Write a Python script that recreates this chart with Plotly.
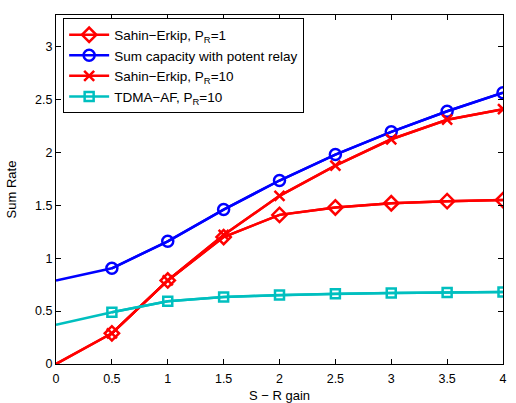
import plotly.graph_objects as go

# S-R channel gain values
gain = [0, 0.5, 1, 1.5, 2, 2.5, 3, 3.5, 4]

# Sum rates for each scheme
sahin_pr1 = [0, 0.29, 0.79, 1.20, 1.41, 1.48, 1.52, 1.54, 1.55]
potent_relay = [0.79, 0.905, 1.16, 1.46, 1.735, 1.98, 2.195, 2.39, 2.565]
sahin_pr10 = [0, 0.29, 0.79, 1.22, 1.59, 1.875, 2.125, 2.31, 2.41]
tdma_af = [0.37, 0.49, 0.594, 0.634, 0.652, 0.665, 0.672, 0.676, 0.68]

series = [
    ("Sahin\u2212Erkip, P<sub>R</sub>=1", sahin_pr1, "#ff0000", "diamond-open", 11),
    ("Sum capacity with potent relay", potent_relay, "#0000ff", "circle-open", 11),
    ("Sahin\u2212Erkip, P<sub>R</sub>=10", sahin_pr10, "#ff0000", "x-thin-open", 10),
    ("TDMA\u2212AF, P<sub>R</sub>=10", tdma_af, "#00bfbf", "square-open", 9),
]

fig = go.Figure()
for name, vals, color, symbol, size in series:
    # full curve from the origin, markers only from the first nonzero gain
    fig.add_trace(go.Scatter(
        x=gain, y=vals, mode="lines", showlegend=False,
        line=dict(color=color, width=2.5), hoverinfo="skip",
    ))
    fig.add_trace(go.Scatter(
        x=gain[1:], y=vals[1:], mode="lines+markers", name=name,
        line=dict(color=color, width=2.5),
        marker=dict(symbol=symbol, size=size, color=color,
                    line=dict(color=color, width=2.5)),
    ))

axis_common = dict(
    showgrid=False, zeroline=False, showline=True, linecolor="black",
    linewidth=1, mirror="ticks", ticks="inside", ticklen=5,
    tickcolor="black", tickfont=dict(size=12.5, color="black"),
    automargin=False,
)

fig.update_layout(
    width=516, height=403,
    margin=dict(l=56, r=13, t=15, b=39),
    paper_bgcolor="white", plot_bgcolor="white",
    font=dict(family="Liberation Sans, Arial, sans-serif", size=13, color="black"),
    xaxis=dict(range=[0, 4], tickvals=[0, 0.5, 1, 1.5, 2, 2.5, 3, 3.5, 4],
               ticktext=["0", "0.5", "1", "1.5", "2", "2.5", "3", "3.5", "4"],
               ticklabelstandoff=3,
               title=dict(text="S \u2212 R gain", font=dict(size=13)),
               **axis_common),
    yaxis=dict(range=[0, 3.3], tickvals=[0, 0.5, 1, 1.5, 2, 2.5, 3],
               ticktext=["0", "0.5", "1", "1.5", "2", "2.5", "3"],
               title=dict(text="Sum Rate", font=dict(size=13)),
               **axis_common),
    legend=dict(x=0.016, y=0.99, xanchor="left", yanchor="top",
                bgcolor="white", bordercolor="black", borderwidth=1,
                font=dict(size=13.5), tracegroupgap=0, itemwidth=40),
)

fig.write_html("out.html")
